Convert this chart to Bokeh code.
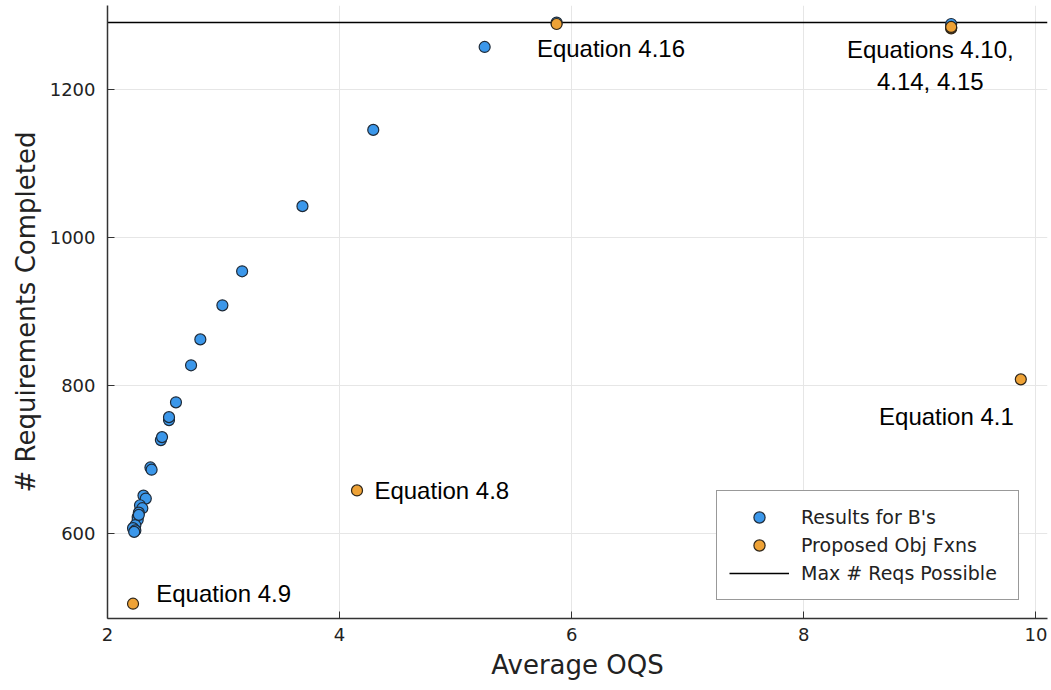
from bokeh.plotting import figure
from bokeh.models import Range1d, Legend, LegendItem, FixedTicker
from bokeh.core.properties import value
from bokeh.embed import file_html
from bokeh.resources import INLINE

# Results for B's
blue_x = [5.25, 4.29, 3.68, 3.16, 2.99, 2.80, 2.72, 2.59, 2.53, 2.53, 2.46, 2.47,
          2.37, 2.38, 2.31, 2.33, 2.28, 2.30, 2.27, 2.26, 2.26, 2.24, 2.22, 2.24,
          2.23, 2.27, 5.87, 9.27]
blue_y = [1257, 1145, 1042, 954, 908, 862, 827, 777, 753, 757, 726, 730,
          689, 686, 651, 647, 638, 634, 628, 622, 618, 611, 607, 604,
          602, 625, 1290, 1288]

# Proposed Obj Fxns
orange_x = [2.22, 4.15, 9.87, 5.87, 9.27, 9.27, 9.27]
orange_y = [505, 658, 808, 1288, 1282, 1283, 1284]

max_reqs = 1290

x_ticks = [2, 4, 6, 8, 10]
y_ticks = [600, 800, 1000, 1200]

ann_text = ["Equation 4.16", "Equations 4.10,", "4.14, 4.15", "Equation 4.1", "Equation 4.8", "Equation 4.9"]
ann_x = [5.70, 9.09, 9.09, 9.81, 4.30, 2.42]
ann_y = [1255, 1253, 1210, 758, 658, 519]
ann_align = ["left", "center", "center", "right", "left", "left"]

X0, X1 = 2.0, 10.1
Y0, Y1 = 485, 1313

BLUE = "#3b97ea"
ORANGE = "#eea236"

p = figure(width=1051, height=690, output_backend="svg", toolbar_location=None,
           x_range=Range1d(X0, X1), y_range=Range1d(Y0, Y1),
           min_border_left=107, min_border_right=4, min_border_top=5, min_border_bottom=72)
p.outline_line_color = None
p.background_fill_color = "white"

p.xaxis.ticker = FixedTicker(ticks=x_ticks)
p.yaxis.ticker = FixedTicker(ticks=y_ticks)
for ax in [p.xaxis[0], p.yaxis[0]]:
    ax.major_tick_in = 7
    ax.major_tick_out = 0
    ax.minor_tick_line_color = None
    ax.axis_line_color = "#333333"
    ax.axis_line_width = 1.5
    ax.major_tick_line_color = "#333333"
    ax.major_label_text_font = "DejaVu Sans"
    ax.major_label_text_font_size = "18px"
    ax.major_label_text_color = "#222222"
    ax.axis_label_text_font = "DejaVu Sans"
    ax.axis_label_text_font_size = "26px"
    ax.axis_label_text_font_style = "normal"
    ax.axis_label_text_color = "#222222"
p.xaxis.axis_label = "Average OQS"
p.yaxis.axis_label = "# Requirements Completed"
p.xaxis.major_label_standoff = 9
p.yaxis.major_label_standoff = 12
p.xaxis.axis_label_standoff = 6
p.yaxis.axis_label_standoff = 6

p.grid.grid_line_color = "#e6e6e6"
p.grid.grid_line_width = 1

max_line = p.line(x=[X0, X1], y=[max_reqs, max_reqs], line_color="black", line_width=1.6)
b = p.scatter(blue_x, blue_y, size=11, fill_color=BLUE, line_color="#1e2a38", line_width=1.2)
o = p.scatter(orange_x, orange_y, size=11, fill_color=ORANGE, line_color="#2e2518", line_width=1.2)

p.text(x=ann_x, y=ann_y, text=ann_text, text_align=ann_align, text_baseline="middle",
       text_font=value("Liberation Sans"), text_font_size="24px", text_color="black")

legend = Legend(items=[LegendItem(label="Results for B's", renderers=[b]),
                       LegendItem(label="Proposed Obj Fxns", renderers=[o]),
                       LegendItem(label="Max # Reqs Possible", renderers=[max_line])],
                location=(609, 18))
legend.label_text_font = "DejaVu Sans"
legend.label_text_font_size = "19px"
legend.label_text_color = "#222222"
legend.border_line_color = "#333333"
legend.border_line_width = 1.2
legend.padding = 12
legend.spacing = 0
legend.margin = 0
legend.glyph_width = 60
legend.glyph_height = 28
legend.label_height = 28
legend.label_width = 205
legend.label_standoff = 12
legend.background_fill_alpha = 1
p.add_layout(legend)

open("out.html", "w").write(file_html(p, INLINE))
